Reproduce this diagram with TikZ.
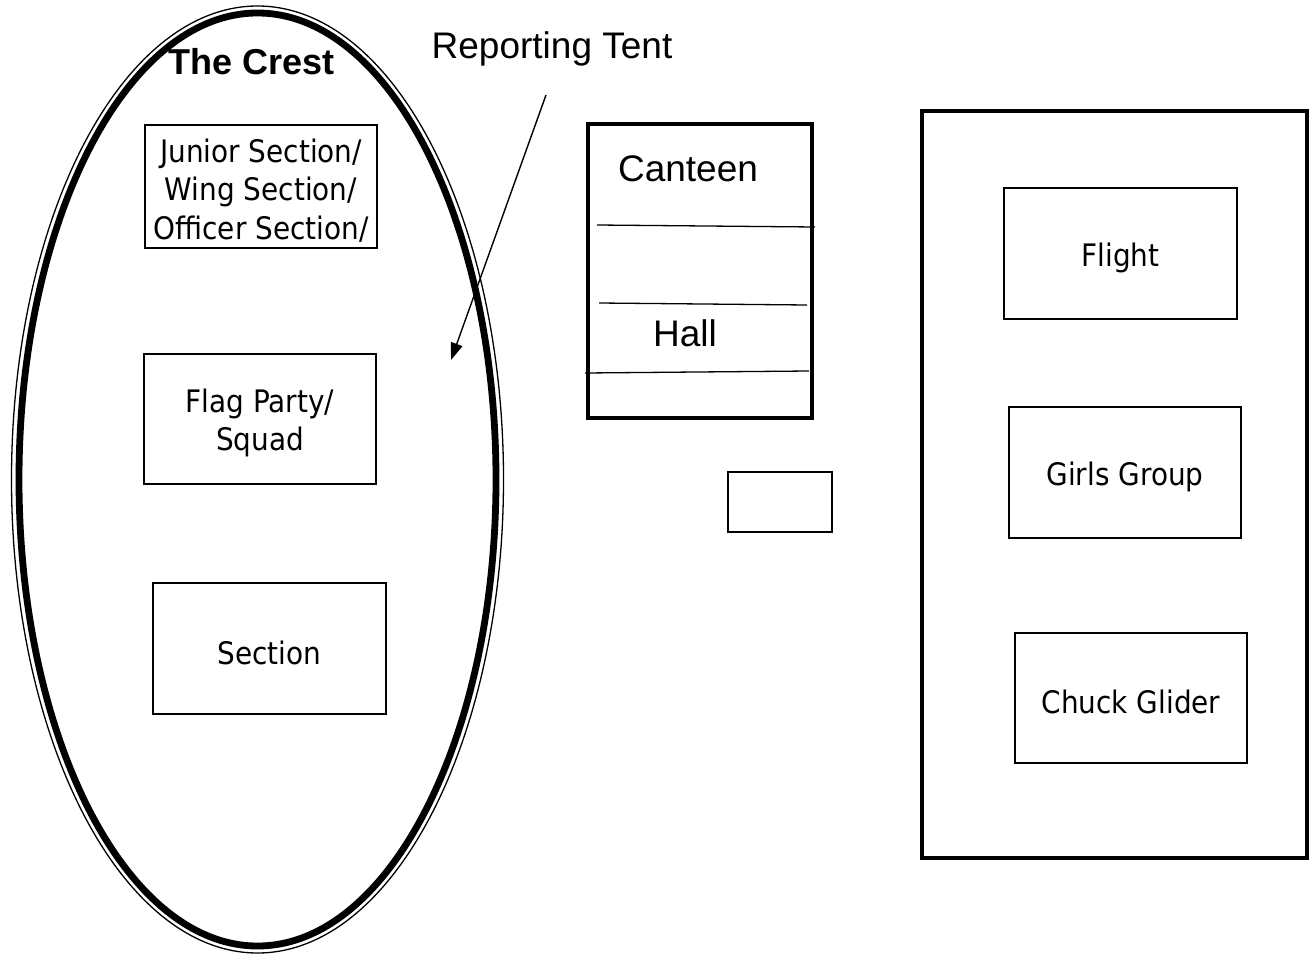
\documentclass[tikz,border=0pt]{standalone}
\usepackage{fontspec}
\setmainfont{Liberation Sans}
\newfontfamily\tah[FakeStretch=0.9]{DejaVu Sans}
\usetikzlibrary{arrows.meta}
\tikzset{
  room/.style={draw, rectangle, inner sep=0pt, line width=1.3pt},
  roomtext/.style={font=\tah\fontsize{31}{38.5}\selectfont, align=center, inner sep=0pt, yshift=-4pt},
  bigroom/.style={draw, rectangle, inner sep=0pt, line width=4.8pt},
  arial/.style={font=\fontsize{37}{44}\selectfont, inner sep=0pt, anchor=base},
  divider/.style={line width=1.3pt},
}
\begin{document}
\begin{tikzpicture}[x=1pt,y=-1pt]
\useasboundingbox[fill=white] (0,0) rectangle (1314,955);
% The Crest ellipse (thick-thin)
\draw[line width=6.8pt] (257.5,479.5) ellipse [x radius=238.5pt, y radius=466.5pt];
\draw[line width=1.3pt] (257.5,479.5) ellipse [x radius=246pt, y radius=473.5pt];
\node[arial, font=\bfseries\fontsize{36}{43}\selectfont] (crest) at (252,75) {The Crest};

\node[room, minimum width=232pt, minimum height=123pt,
  label={[roomtext]center:Junior Section/\\Wing Section/\\Officer Section/}] (junior) at (261,186.5) {};
\node[room, minimum width=232pt, minimum height=130pt,
  label={[roomtext]center:Flag Party/\\Squad}] (flag) at (260,419) {};
\node[room, minimum width=233pt, minimum height=131pt,
  label={[roomtext]center:Section}] (section) at (269.5,648.5) {};

% Reporting tent label and arrow
\node[arial] (report) at (552,59) {Reporting Tent};
\coordinate (arrstart) at (546,95);
\coordinate (arrend) at (451,360);
\draw[line width=1.4pt, -{Triangle[length=17pt,width=12pt]}] (arrstart) -- (arrend);

% Canteen / Hall block
\node[bigroom, minimum width=224pt, minimum height=294pt] (canteenbox) at (700,271) {};
\draw[divider] (597,225) -- (815,227);
\draw[divider] (599,303) -- (807,305);
\draw[divider] (585,373) -- (809,371);
\node[arial] (canteen) at (688,181) {Canteen};
\node[arial] (hall) at (685,346) {Hall};

% small box
\node[draw, rectangle, inner sep=0pt, line width=2pt, minimum width=104pt, minimum height=60pt] (small) at (780,502) {};

% Right block
\node[bigroom, minimum width=385pt, minimum height=747pt] (rightblock) at (1114.5,484.5) {};
\node[room, minimum width=233pt, minimum height=131pt,
  label={[roomtext]center:Flight}] (flight) at (1120.5,253.5) {};
\node[room, minimum width=232pt, minimum height=131pt,
  label={[roomtext]center:Girls Group}] (girls) at (1125,472.5) {};
\node[room, minimum width=232pt, minimum height=130pt,
  label={[roomtext]center:Chuck Glider}] (chuck) at (1131,698) {};
\end{tikzpicture}
\end{document}
